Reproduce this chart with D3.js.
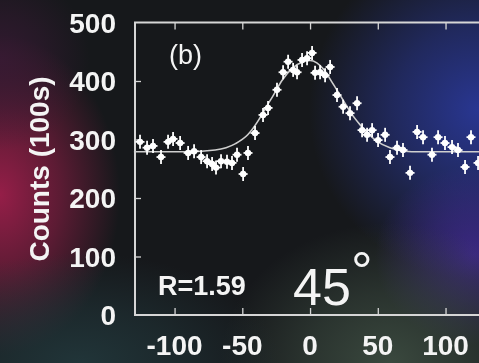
<!DOCTYPE html>
<html>
<head>
<meta charset="utf-8">
<script src="https://cdn.jsdelivr.net/npm/d3@7"></script>
<style>
  html, body { margin: 0; padding: 0; background: #181a1e; }
  svg { display: block; }
</style>
</head>
<body>
<div id="chart"></div>
<script>
// Measured data points (angle, counts in 100s)
const angles = [-125.5, -120.3, -115.9, -110.0, -104.8, -101.1, -95.9, -90.0, -85.6, -80.4,
    -76.0, -72.3, -69.4, -65.7, -61.3, -57.6, -53.9, -49.4, -45.8, -40.6,
    -34.7, -31.0, -24.4, -19.9, -16.2, -12.5, -9.6, -5.9, -2.2, 1.5,
    3.7, 7.4, 11.1, 14.8, 19.9, 24.4, 29.5, 34.7, 38.4, 42.1,
    45.8, 50.2, 55.4, 59.0, 64.2, 68.6, 73.8, 79.0, 83.4, 90.0,
    94.5, 99.6, 104.8, 109.2, 114.4, 118.8, 124.0];
const counts = [296, 286, 289, 270, 296, 301, 294, 277, 280, 270,
    263, 258, 252, 263, 262, 260, 274, 241, 277, 311,
    342, 354, 385, 415, 433, 419, 415, 436, 439, 448,
    414, 415, 410, 424, 376, 356, 345, 362, 316, 308,
    316, 299, 308, 270, 286, 282, 243, 313, 304, 274,
    304, 294, 287, 282, 253, 304, 260];

// Fitted curve
const fitAngles = [-130, -90, -70, -62, -55, -46, -38, -33, -27, -21, -13, -5, 0, 5, 10, 17, 25, 30, 37, 42, 50, 59, 70, 80, 130];
const fitCounts = [279, 279, 282, 286, 293, 308, 333, 353, 376, 400, 422, 433, 435, 431, 420, 395, 365, 346, 325, 312, 296, 286, 280, 279, 279];

const xTicks = [-100, -50, 0, 50, 100];
const yTicks = [0, 100, 200, 300, 400, 500];

const W = 479, H = 363;
const svg = d3.select("#chart").append("svg")
    .attr("width", W)
    .attr("height", H);

const defs = svg.append("defs");

// Background glow layers (photo-like colored lighting)
const glows = [
    { id: "g-mag", cx: 0, cy: 195, rx: 120, ry: 160, color: "#951e48", op: 1 },
    { id: "g-mag2", cx: 0, cy: 60, rx: 90, ry: 90, color: "#3a1a36", op: 0.8 },
    { id: "g-blue", cx: 479, cy: 110, rx: 170, ry: 170, color: "#2a3898", op: 0.95 },
    { id: "g-purp", cx: 475, cy: 255, rx: 100, ry: 90, color: "#4a2ca6", op: 0.7 },
    { id: "g-green", cx: 390, cy: 363, rx: 170, ry: 140, color: "#3e4e42", op: 0.9 },
    { id: "g-teal", cx: 80, cy: 363, rx: 200, ry: 110, color: "#22383c", op: 0.9 }
];

glows.forEach(g => {
    const grad = defs.append("radialGradient")
        .attr("id", g.id)
        .attr("gradientUnits", "userSpaceOnUse")
        .attr("cx", 0).attr("cy", 0).attr("r", 1)
        .attr("gradientTransform", `translate(${g.cx},${g.cy}) scale(${g.rx},${g.ry})`);
    grad.append("stop").attr("offset", "0%").attr("stop-color", g.color).attr("stop-opacity", g.op);
    grad.append("stop").attr("offset", "50%").attr("stop-color", g.color).attr("stop-opacity", g.op * 0.55);
    grad.append("stop").attr("offset", "100%").attr("stop-color", g.color).attr("stop-opacity", 0);
});

defs.append("filter")
    .attr("id", "soft")
    .append("feGaussianBlur")
    .attr("stdDeviation", 0.6);

defs.append("filter")
    .attr("id", "softText")
    .append("feGaussianBlur")
    .attr("stdDeviation", 0.4);

svg.append("rect")
    .attr("width", W).attr("height", H)
    .attr("fill", "#16181b");

glows.forEach(g => {
    svg.append("rect")
        .attr("width", W).attr("height", H)
        .attr("fill", `url(#${g.id})`);
});

// Scales
const x = d3.scaleLinear().domain([-129.2, 124.7]).range([135, 479]);
const y = d3.scaleLinear().domain([0, 500]).range([315, 22.5]);

const axisColor = "#d6d6d6";
const textColor = "#f4f4f4";

const plot = svg.append("g").attr("filter", "url(#soft)");

// Frame: left, top, bottom lines
plot.append("path")
    .attr("d", `M${W},${y(500)}H${x.range()[0]}V${y(0)}H${W}`)
    .attr("fill", "none")
    .attr("stroke", axisColor)
    .attr("stroke-width", 2);

// Inward ticks on bottom and top
const bottomAxis = d3.axisTop(x).tickValues(xTicks).tickSize(7).tickFormat("");
plot.append("g")
    .attr("transform", `translate(0,${y(0)})`)
    .call(bottomAxis)
    .call(g => g.select(".domain").remove())
    .selectAll("line").attr("stroke", axisColor).attr("stroke-width", 1.3);

const topAxis = d3.axisBottom(x).tickValues(xTicks).tickSize(7).tickFormat("");
plot.append("g")
    .attr("transform", `translate(0,${y(500)})`)
    .call(topAxis)
    .call(g => g.select(".domain").remove())
    .selectAll("line").attr("stroke", axisColor).attr("stroke-width", 1.3);

const leftAxis = d3.axisRight(y).tickValues(yTicks.slice(1, 5)).tickSize(6).tickFormat("");
plot.append("g")
    .attr("transform", `translate(${x.range()[0]},0)`)
    .call(leftAxis)
    .call(g => g.select(".domain").remove())
    .selectAll("line").attr("stroke", axisColor).attr("stroke-width", 1.3);

// Tick labels
const labels = svg.append("g")
    .attr("font-family", "'Liberation Sans', Arial, sans-serif")
    .attr("font-weight", "bold")
    .attr("font-size", 28)
    .attr("fill", textColor)
    .attr("filter", "url(#softText)");

labels.selectAll(".xl")
    .data(xTicks)
    .enter().append("text")
    .attr("x", d => x(d))
    .attr("y", 355)
    .attr("text-anchor", "middle")
    .text(d => d);

labels.selectAll(".yl")
    .data(yTicks)
    .enter().append("text")
    .attr("x", 116)
    .attr("y", d => y(d) + 10)
    .attr("text-anchor", "end")
    .text(d => d);

labels.append("text")
    .attr("transform", "translate(49,169) rotate(-90)")
    .attr("text-anchor", "middle")
    .text("Counts (100s)");

// Fit curve
const fitData = fitAngles.map((a, i) => ({ a, c: fitCounts[i] }));
plot.append("path")
    .datum(fitData)
    .attr("d", d3.line().x(d => x(d.a)).y(d => y(d.c)).curve(d3.curveMonotoneX))
    .attr("fill", "none")
    .attr("stroke", "#cfcfcf")
    .attr("stroke-width", 1.6);

// Data markers: cross with error bar and dot
const pts = angles.map((a, i) => ({ a, c: counts[i] }));
const marks = plot.selectAll(".pt")
    .data(pts)
    .enter().append("g")
    .attr("transform", d => `translate(${x(d.a)},${y(d.c)})`);

marks.append("line")
    .attr("x1", 0).attr("x2", 0).attr("y1", -7).attr("y2", 7)
    .attr("stroke", "#ffffff").attr("stroke-width", 1.8);
marks.append("line")
    .attr("x1", -4.5).attr("x2", 4.5).attr("y1", 0).attr("y2", 0)
    .attr("stroke", "#ffffff").attr("stroke-width", 1.8);
marks.append("circle")
    .attr("r", 3.2)
    .attr("fill", "#ffffff");

// Annotations
const ann = svg.append("g")
    .attr("font-family", "'Liberation Sans', Arial, sans-serif")
    .attr("fill", textColor)
    .attr("filter", "url(#softText)");

ann.append("text")
    .attr("x", 169).attr("y", 64)
    .attr("font-size", 27)
    .text("(b)");

ann.append("text")
    .attr("x", 158).attr("y", 295)
    .attr("font-size", 27)
    .attr("font-weight", "bold")
    .text("R=1.59");

ann.append("text")
    .attr("x", 293).attr("y", 305)
    .attr("font-size", 52)
    .text("45");

ann.append("text")
    .attr("x", 351).attr("y", 290)
    .attr("font-size", 54)
    .text("°");
</script>
</body>
</html>
